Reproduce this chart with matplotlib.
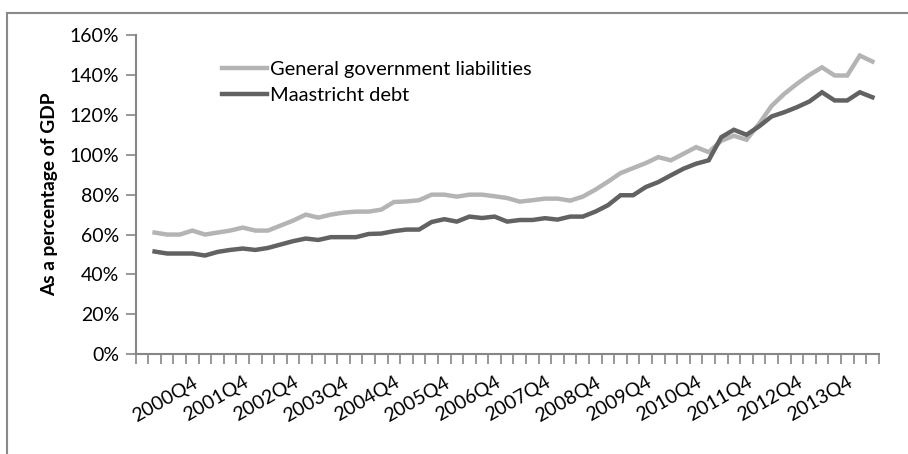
import numpy as np
import matplotlib.pyplot as plt
from matplotlib.lines import Line2D
from matplotlib.ticker import FuncFormatter, MultipleLocator, FixedLocator

# quarters 2000Q1 .. 2014Q2
quarters = [f"{y}Q{q}" for y in range(2000, 2015) for q in range(1, 5)][:58]

liabilities = [61, 60, 60, 62, 60, 61, 62, 63.5, 62, 62,
               64.5, 67, 70, 68.5, 70, 71, 71.5, 71.5, 72.5, 76.3,
               76.6, 77.2, 80, 80, 79, 80, 80, 79.2, 78.3, 76.5,
               77.2, 78, 78, 77, 79, 82.5, 86.5, 90.8, 93.3, 95.8,
               98.8, 97.2, 100.5, 103.8, 101.3, 107, 109.5, 107.5, 115.5, 124.5,
               130.5, 135.5, 140, 143.8, 139.7, 139.7, 149.7, 146.7]

maastricht = [51.5, 50.5, 50.5, 50.5, 49.5, 51.3, 52.3, 53, 52.3, 53.3,
              55, 56.7, 58, 57.3, 58.7, 58.7, 58.7, 60.3, 60.5, 61.7,
              62.5, 62.5, 66.3, 67.7, 66.5, 69, 68.3, 69, 66.5, 67.3,
              67.3, 68.2, 67.5, 69, 69, 71.5, 74.7, 79.7, 79.7, 83.8,
              86.3, 89.7, 93, 95.5, 97.2, 108.8, 112.5, 110, 114.2, 119.2,
              121.3, 123.8, 126.7, 131.3, 127.2, 127.2, 131.3, 128.8]

light = '#B4B4B4'
dark = '#626262'
axis_col = '#868686'

plt.rcParams['font.family'] = ['Lato', 'DejaVu Sans']

fig = plt.figure(figsize=(9.08, 4.54), dpi=100)
ax = fig.add_axes([135.7 / 908, 1 - 354.3 / 454, 743 / 908, 319.3 / 454])

# one empty category before the first quarter, as in the source sheet
x = np.arange(len(quarters)) + 1
ax.plot(x, liabilities, color=light, lw=3.2, solid_joinstyle='miter',
        label='General government liabilities')
ax.plot(x, maastricht, color=dark, lw=3.2, solid_joinstyle='miter',
        label='Maastricht debt')

ax.set_xlim(-0.5, len(quarters) + 0.5)
ax.set_ylim(0, 160)
ax.yaxis.set_major_locator(MultipleLocator(20))
ax.yaxis.set_major_formatter(FuncFormatter(lambda v, p: f"{v:.0f}%"))

lab_idx = [i for i, q in enumerate(quarters) if q.endswith('Q4')]
ax.set_xticks(x[lab_idx])
ax.set_xticklabels([quarters[i] for i in lab_idx], rotation=30,
                   ha='right', va='top', rotation_mode='anchor')
ax.xaxis.set_minor_locator(FixedLocator(np.arange(len(quarters) + 2) - 0.5))
ax.tick_params(axis='x', which='major', length=0, pad=14, labelsize=14)
ax.tick_params(axis='x', which='minor', length=7, width=1.2, color=axis_col)
ax.tick_params(axis='y', length=7, width=1.2, color=axis_col, labelsize=14, pad=5)

for s in ['top', 'right']:
    ax.spines[s].set_visible(False)
for s in ['left', 'bottom']:
    ax.spines[s].set_color(axis_col)
    ax.spines[s].set_linewidth(1.5)

ax.set_ylabel('As a percentage of GDP', fontsize=13.8, fontweight='bold', labelpad=8)

ax.legend(loc='upper left', bbox_to_anchor=(0.116, 0.918), frameon=False,
          fontsize=14.4, handlelength=2.25, handletextpad=0.15, labelspacing=0.42,
          borderaxespad=0, borderpad=0)

# outer chart border (left and top visible)
fig.add_artist(Line2D([7 / 908, 7 / 908], [0, 1 - 13 / 454], color='#8a8a8a',
                      lw=1.5, transform=fig.transFigure))
fig.add_artist(Line2D([7 / 908, 1], [1 - 13 / 454, 1 - 13 / 454], color='#8a8a8a',
                      lw=1.5, transform=fig.transFigure))

fig.savefig('out.png', dpi=100)
